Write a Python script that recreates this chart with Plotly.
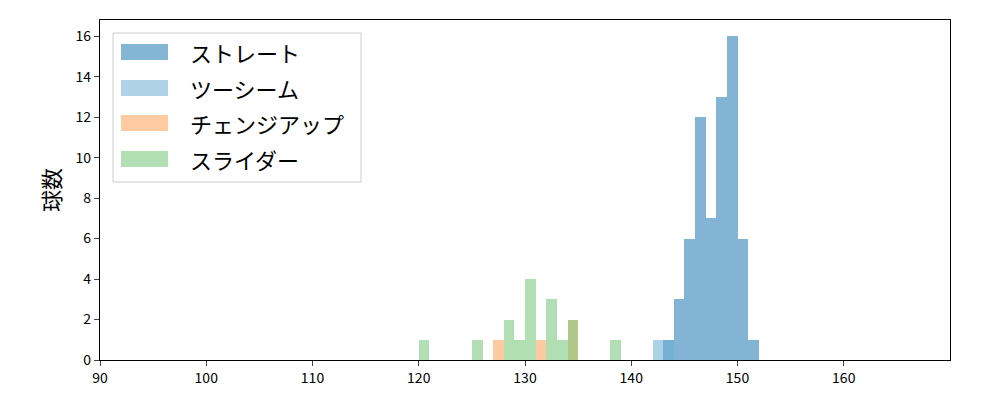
import plotly.graph_objects as go

# bin left edges (km/h) and counts per pitch type, bin width 1
straight_bins = [143, 144, 145, 146, 147, 148, 149, 150, 151]
straight_counts = [1, 3, 6, 12, 7, 13, 16, 6, 1]

twoseam_bins = [142, 143]
twoseam_counts = [1, 1]

changeup_bins = [127, 131, 134]
changeup_counts = [1, 1, 2]

slider_bins = [120, 125, 128, 129, 130, 132, 133, 134, 138]
slider_counts = [1, 1, 2, 1, 4, 3, 1, 2, 1]

names = ["ストレート", "ツーシーム", "チェンジアップ", "スライダー"]
colors = ["#1f77b4", "#6baed6", "#fd9f55", "#74c476"]
series = [
    (straight_bins, straight_counts),
    (twoseam_bins, twoseam_counts),
    (changeup_bins, changeup_counts),
    (slider_bins, slider_counts),
]

x_ticks = [90, 100, 110, 120, 130, 140, 150, 160]
y_ticks = [0, 2, 4, 6, 8, 10, 12, 14, 16]

OPACITY = 0.55
fig = go.Figure()
for name, color, (bins, counts) in zip(names, colors, series):
    fig.add_trace(go.Bar(
        x=bins, y=counts, width=1, offset=0,
        name=name, marker=dict(color=color, line=dict(width=0)),
        opacity=OPACITY, showlegend=False,
    ))

# plot-area geometry in pixels (for the hand-drawn legend)
PL, PR, PT, PB = 100, 950, 20, 360
def px(x):
    return (x - PL) / (PR - PL)
def py(y):
    return (PB - y) / (PB - PT)

shapes = [dict(
    type="rect", xref="paper", yref="paper",
    x0=px(113), x1=px(361), y0=py(182), y1=py(33),
    fillcolor="rgba(255,255,255,0.8)", line=dict(color="#cccccc", width=1),
    layer="above",
)]
annotations = []
row_tops = [44, 80, 115, 151]
for name, color, top in zip(names, colors, row_tops):
    shapes.append(dict(
        type="rect", xref="paper", yref="paper",
        x0=px(121), x1=px(168), y0=py(top + 16), y1=py(top),
        fillcolor=color, opacity=OPACITY, line=dict(width=0), layer="above",
    ))
    annotations.append(dict(
        xref="paper", yref="paper", x=px(188), y=py(top + 8),
        xanchor="left", yanchor="middle", text=name, showarrow=False,
        font=dict(family="Noto Sans CJK JP", size=22, color="black"),
    ))

font_main = "Noto Sans CJK JP, DejaVu Sans"
fig.update_layout(
    width=992, height=392,
    barmode="overlay",
    bargap=0,
    paper_bgcolor="white", plot_bgcolor="white",
    margin=dict(l=92, r=50, t=12, b=40),
    font=dict(family=font_main, size=14, color="black"),
    showlegend=False,
    shapes=shapes,
    annotations=annotations,
)
fig.update_xaxes(
    range=[90, 170], tickvals=x_ticks, ticks="outside", ticklen=5,
    showline=True, linecolor="black", linewidth=1.2, mirror=True,
    showgrid=False, zeroline=False,
)
fig.update_yaxes(
    range=[0, 16.8], tickvals=y_ticks, ticks="outside", ticklen=5,
    showline=True, linecolor="black", linewidth=1.2, mirror=True,
    showgrid=False, zeroline=False,
    title=dict(text="球数", font=dict(family="Noto Sans CJK JP", size=22), standoff=8),
)

fig.write_html("out.html")
